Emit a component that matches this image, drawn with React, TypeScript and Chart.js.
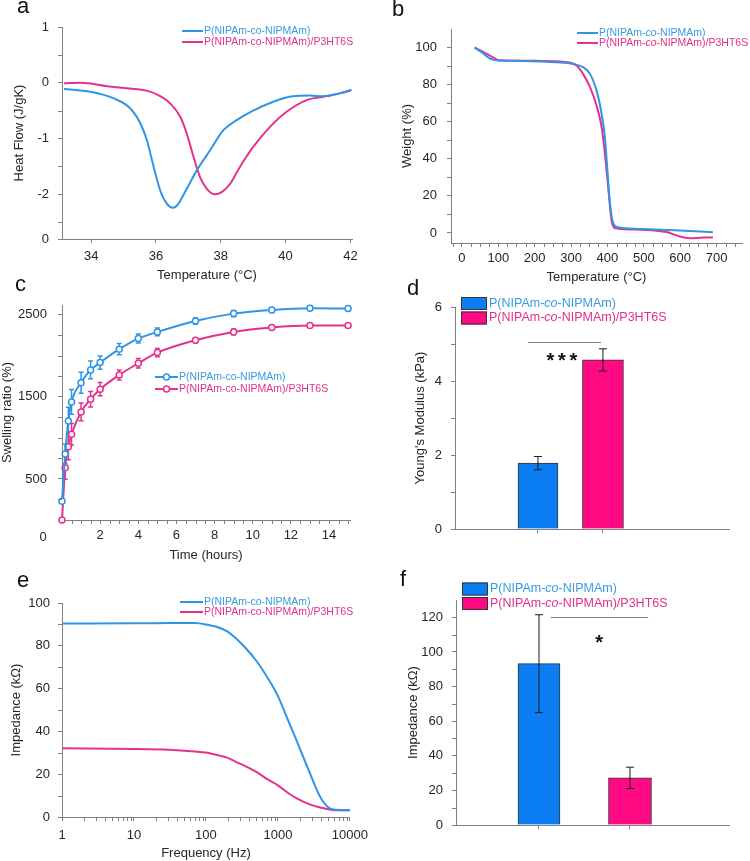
import React, { useEffect, useRef } from 'react';
import { Chart, registerables } from 'chart.js';

Chart.register(...registerables);

// ---------------- data ----------------
const seriesNames = ['P(NIPAm-co-NIPMAm)', 'P(NIPAm-co-NIPMAm)/P3HT6S'];
const panelLetters = ['a', 'b', 'c', 'd', 'e', 'f'];

// (a) DSC heat flow
const dscTempCopolymer = [33.16, 33.98, 34.7, 35.21, 35.52, 35.72, 35.93, 36.13, 36.34, 36.52, 36.65, 36.95, 37.26, 37.67, 38.08, 38.49, 39.0, 39.62, 40.23, 40.75, 41.16, 41.67, 42.03];
const dscHeatCopolymer = [-0.11, -0.16, -0.28, -0.46, -0.73, -1.03, -1.51, -1.93, -2.17, -2.24, -2.2, -1.9, -1.57, -1.21, -0.85, -0.67, -0.5, -0.34, -0.24, -0.23, -0.24, -0.19, -0.13];
const dscTempComposite = [33.16, 33.67, 34.49, 35.1, 35.72, 36.13, 36.44, 36.75, 36.95, 37.16, 37.36, 37.57, 37.82, 38.03, 38.29, 38.59, 39.0, 39.52, 40.03, 40.65, 41.16, 41.67, 42.03];
const dscHeatComposite = [-0.01, 0.0, -0.06, -0.1, -0.14, -0.24, -0.37, -0.61, -0.91, -1.33, -1.69, -1.9, -2.0, -1.96, -1.81, -1.51, -1.15, -0.79, -0.52, -0.31, -0.25, -0.19, -0.13];
const dscXTicks = [34, 36, 38, 40, 42];
const dscXTickLabels = ['34', '36', '38', '40', '42'];
const dscYTicks = [-2.8, -2, -1, 0, 1];
const dscYTickLabels = ['0', '-2', '-1', '0', '1'];
const dscYMinor = [-2.5, -1.5, -0.5, 0.5];

// (b) TGA weight
const tgaTempCopolymer = [35, 54, 77, 100, 168, 260, 306, 333, 352, 370, 384, 393, 400, 407, 416, 429, 489, 562, 626, 690];
const tgaWeightCopolymer = [100, 97.5, 94, 93, 92.8, 92.1, 91.2, 89.4, 85.8, 76.9, 64.3, 51.8, 33.9, 16, 5.2, 3.1, 2.2, 1.6, 1.1, 0.4];
const tgaTempComposite = [35, 54, 92, 100, 215, 288, 315, 333, 352, 370, 384, 393, 402, 411, 420, 489, 562, 599, 626, 663, 690];
const tgaWeightComposite = [100, 98, 94, 93.2, 92.8, 92.1, 90.3, 85.8, 78.7, 68.8, 57.2, 42.9, 25, 7.2, 2.7, 1.8, 0.5, -1.9, -2.8, -2.5, -2.4];
const tgaXTicks = [0, 100, 200, 300, 400, 500, 600, 700];
const tgaXTickLabels = ['0', '100', '200', '300', '400', '500', '600', '700'];
const tgaYTicks = [0, 20, 40, 60, 80, 100];
const tgaYTickLabels = ['0', '20', '40', '60', '80', '100'];
const tgaYMinor = [10, 30, 50, 70, 90];

// (c) swelling ratio
const swellTime = [0, 0.167, 0.333, 0.5, 1, 1.5, 2, 3, 4, 5, 7, 9, 11, 13, 15];
const swellCopolymer = [230, 805, 1207, 1439, 1674, 1829, 1918, 2082, 2211, 2292, 2426, 2515, 2560, 2580, 2578];
const swellCopolymerErr = [0, 120, 167, 150, 128, 108, 81, 69, 55, 47, 40, 37, 30, 27, 27];
const swellComposite = [0, 638, 894, 1045, 1317, 1472, 1594, 1768, 1910, 2040, 2191, 2292, 2345, 2369, 2369];
const swellCompositeErr = [0, 142, 160, 130, 108, 95, 81, 61, 57, 51, 30, 35, 25, 22, 20];
const swellXTicks = [2, 4, 6, 8, 10, 12, 14];
const swellXTickLabels = ['2', '4', '6', '8', '10', '12', '14'];
const swellYTicks = [500, 1500, 2500];
const swellYTickLabels = ['500', '1500', '2500'];
const swellYMinor = [250, 750, 1000, 1250, 1750, 2000, 2250];

// (d) Young's modulus
const youngGroups = [1, 2];
const youngValues = [1.78, 4.57];
const youngErrors = [0.18, 0.3];
const youngYTicks = [0, 2, 4, 6];
const youngYTickLabels = ['0', '2', '4', '6'];
const youngYMinor = [1, 3, 5];

// (e) impedance spectrum
const freqHz = [1, 10, 30, 70, 100, 140, 200, 260, 350, 500, 750, 1000, 1400, 1800, 2700, 4000, 5600, 7500, 10000];
const impSpecCopolymer = [90.4, 90.5, 90.7, 90.6, 90.0, 88.9, 86.6, 83.5, 79.2, 73.0, 64.0, 56.5, 44.8, 36.0, 21.5, 8.5, 3.6, 3.2, 3.1];
const impSpecComposite = [32.1, 31.8, 31.4, 30.6, 30.1, 29.0, 27.6, 25.8, 23.8, 21.1, 17.2, 14.8, 11.1, 8.8, 6.0, 4.3, 3.3, 3.1, 3.1];
const freqXTicks = [1, 10, 100, 1000, 10000];
const freqXTickLabels = ['1', '10', '100', '1000', '10000'];
const impYTicks = [0, 20, 40, 60, 80, 100];
const impYTickLabels = ['0', '20', '40', '60', '80', '100'];
const impYMinor = [10, 30, 50, 70, 90];

// (f) impedance at 1 kHz
const impGroups = [1, 2];
const impValues = [93.2, 27.2];
const impErrors = [28.3, 6.2];
const impBarYTicks = [0, 20, 40, 60, 80, 100, 120];
const impBarYTickLabels = ['0', '20', '40', '60', '80', '100', '120'];
const impBarYMinor = [10, 30, 50, 70, 90, 110];

// ---------------- styles ----------------
const FONT = '"Liberation Sans", Arial, Helvetica, sans-serif';
const BLUE = '#2f95e6';
const MAGENTA = '#e5318c';
const BLUE_TEXT = '#3b9ae0';
const MAGENTA_TEXT = '#e0308a';
const BAR_BLUE = '#0c7ef4';
const BAR_MAGENTA = '#ff0a82';
const AXIS = '#808080';
const TICK_TEXT = '#262626';

// minor tick helper lists (tick positions only)
const tgaXMinor: number[] = [];
for (let v = -25; v <= 750; v += 25) if (v % 100 !== 0) tgaXMinor.push(v);
const swellXMinor: number[] = [];
for (let v = 0.5; v <= 15; v += 0.5) if (v % 2 !== 0) swellXMinor.push(v);
const freqXMinor: number[] = [];
for (let d = 1; d < 10000; d *= 10) for (let m = 2; m <= 9; m++) freqXMinor.push(d * m);

// ---------------- helpers ----------------
function axis(o: any) {
  return {
    type: o.type || 'linear',
    min: o.min,
    max: o.max,
    offset: false,
    border: { display: true, color: AXIS, width: 1 },
    grid: { display: true, drawOnChartArea: false, drawTicks: true, tickLength: 4, tickColor: AXIS, color: AXIS, offset: false },
    ticks: {
      color: TICK_TEXT,
      font: { family: FONT, size: 13 },
      padding: o.pad,
      autoSkip: false,
      maxRotation: 0,
      minRotation: 0,
      callback: (_v: any, i: number) => (o.labels[i] !== undefined ? o.labels[i] : ''),
    },
    afterBuildTicks: (s: any) => {
      s.ticks = o.ticks.map((v: number) => ({ value: v }));
    },
    afterFit: (s: any) => {
      if (o.horizontal) s.height = o.size;
      else s.width = o.size;
    },
    title: o.title
      ? {
          display: true,
          text: o.title,
          color: TICK_TEXT,
          font: { family: FONT, size: 13 },
          padding: o.horizontal ? { top: 0, bottom: o.titlePad || 0 } : { top: o.titlePad || 0, bottom: 0 },
        }
      : { display: false },
  };
}

function baseOptions(padding: any, scales: any) {
  return {
    responsive: false,
    animation: false,
    events: [],
    layout: { padding },
    plugins: { legend: { display: false }, tooltip: { enabled: false } },
    scales,
  };
}

function lineDataset(label: string, xs: number[], ys: number[], color: string, extra: any = {}) {
  return {
    label,
    data: xs.map((x, i) => ({ x, y: ys[i] })),
    borderColor: color,
    backgroundColor: color,
    borderWidth: 2,
    pointRadius: 0,
    cubicInterpolationMode: 'monotone',
    fill: false,
    ...extra,
  };
}

function splitCo(text: string): [string, boolean][] {
  const i = text.indexOf('-co-');
  if (i < 0) return [[text, false]];
  return [
    [text.slice(0, i + 1), false],
    ['co', true],
    [text.slice(i + 3), false],
  ];
}

function drawRich(ctx: CanvasRenderingContext2D, text: string, x: number, y: number, size: number, color: string, italicCo: boolean) {
  ctx.textBaseline = 'middle';
  ctx.textAlign = 'left';
  ctx.fillStyle = color;
  const parts: [string, boolean][] = italicCo ? splitCo(text) : [[text, false]];
  let cx = x;
  for (const [t, it] of parts) {
    ctx.font = `${it ? 'italic ' : ''}${size}px ${FONT}`;
    ctx.fillText(t, cx, y);
    cx += ctx.measureText(t).width;
  }
}

function drawErrors(chart: any, isBar: boolean) {
  const ctx = chart.ctx;
  const ys = chart.scales.y;
  chart.data.datasets.forEach((ds: any, di: number) => {
    const errs = ds.errors;
    if (!errs) return;
    const meta = chart.getDatasetMeta(di);
    ctx.save();
    ctx.strokeStyle = isBar ? '#1a1a1a' : ds.borderColor;
    ctx.lineWidth = isBar ? 1 : 1.5;
    const cap = isBar ? 4 : 2.5;
    meta.data.forEach((el: any, i: number) => {
      const e = errs[i];
      if (!e) return;
      const raw = ds.data[i];
      const v = typeof raw === 'number' ? raw : raw.y;
      const x = el.x;
      const y1 = ys.getPixelForValue(v + e);
      const y2 = ys.getPixelForValue(v - e);
      ctx.beginPath();
      ctx.moveTo(x, y1);
      ctx.lineTo(x, y2);
      ctx.moveTo(x - cap, y1);
      ctx.lineTo(x + cap, y1);
      ctx.moveTo(x - cap, y2);
      ctx.lineTo(x + cap, y2);
      ctx.stroke();
    });
    ctx.restore();
  });
}

function drawMinor(chart: any, id: string, values: number[], len: number) {
  const s = chart.scales[id];
  const ctx = chart.ctx;
  const ca = chart.chartArea;
  ctx.save();
  ctx.strokeStyle = AXIS;
  ctx.lineWidth = 1;
  ctx.beginPath();
  for (const v of values) {
    if (v < s.min || v > s.max) continue;
    if (s.isHorizontal()) {
      const x = Math.round(s.getPixelForValue(v)) + 0.5;
      ctx.moveTo(x, ca.bottom);
      ctx.lineTo(x, ca.bottom + len);
    } else {
      const y = Math.round(s.getPixelForValue(v)) + 0.5;
      ctx.moveTo(ca.left, y);
      ctx.lineTo(ca.left - len, y);
    }
  }
  ctx.stroke();
  ctx.restore();
}

function makeExtras(ex: any) {
  return {
    id: 'extras',
    beforeDatasetsDraw(chart: any) {
      if (ex.errorStyle === 'line') drawErrors(chart, false);
    },
    afterDatasetsDraw(chart: any) {
      if (ex.errorStyle === 'bar') drawErrors(chart, true);
    },
    afterDraw(chart: any) {
      const ctx = chart.ctx;
      if (ex.minorX) drawMinor(chart, 'x', ex.minorX, 4);
      if (ex.minorY) drawMinor(chart, 'y', ex.minorY, 4);
      if (ex.sig) {
        const sg = ex.sig;
        const xs = chart.scales.x;
        const ys = chart.scales.y;
        ctx.save();
        ctx.strokeStyle = '#7a7a7a';
        ctx.lineWidth = 1;
        const y = Math.round(ys.getPixelForValue(sg.y)) + 0.5;
        ctx.beginPath();
        ctx.moveTo(xs.getPixelForValue(sg.x1), y);
        ctx.lineTo(xs.getPixelForValue(sg.x2), y);
        ctx.stroke();
        ctx.fillStyle = '#111';
        ctx.font = `bold ${sg.size}px ${FONT}`;
        ctx.textAlign = 'center';
        ctx.textBaseline = 'alphabetic';
        const chars = sg.text.split('');
        const cx = xs.getPixelForValue(sg.tx);
        const ty = ys.getPixelForValue(sg.ty);
        chars.forEach((c: string, i: number) => {
          ctx.fillText(c, cx + (i - (chars.length - 1) / 2) * sg.spacing, ty);
        });
        ctx.restore();
      }
      if (ex.texts) {
        ex.texts.forEach((t: any) => {
          ctx.save();
          ctx.font = `${t.size}px ${FONT}`;
          ctx.fillStyle = TICK_TEXT;
          ctx.textAlign = 'center';
          ctx.textBaseline = 'middle';
          ctx.fillText(t.text, t.x, t.y);
          ctx.restore();
        });
      }
      if (ex.legend) {
        const lg = ex.legend;
        lg.items.forEach((it: any, i: number) => {
          const y = lg.ys[i];
          ctx.save();
          if (lg.kind === 'box') {
            ctx.fillStyle = it.color;
            ctx.fillRect(lg.x1, y - lg.boxH / 2, lg.x2 - lg.x1, lg.boxH);
            ctx.strokeStyle = '#333';
            ctx.lineWidth = 1;
            ctx.strokeRect(lg.x1 + 0.5, y - lg.boxH / 2 + 0.5, lg.x2 - lg.x1 - 1, lg.boxH - 1);
          } else {
            ctx.strokeStyle = it.color;
            ctx.lineWidth = 2;
            ctx.beginPath();
            ctx.moveTo(lg.x1, y);
            ctx.lineTo(lg.x2, y);
            ctx.stroke();
            if (lg.kind === 'marker') {
              ctx.beginPath();
              ctx.arc((lg.x1 + lg.x2) / 2, y, 3, 0, Math.PI * 2);
              ctx.fillStyle = '#fff';
              ctx.fill();
              ctx.lineWidth = 1.5;
              ctx.stroke();
            }
          }
          drawRich(ctx, it.text, lg.textX, y, lg.size, it.textColor, !!lg.italicCo);
          ctx.restore();
        });
      }
    },
  };
}

const legendItems = [
  { text: seriesNames[0], color: BLUE, textColor: BLUE_TEXT },
  { text: seriesNames[1], color: MAGENTA, textColor: MAGENTA_TEXT },
];
const legendBoxItems = [
  { text: seriesNames[0], color: BAR_BLUE, textColor: BLUE_TEXT },
  { text: seriesNames[1], color: BAR_MAGENTA, textColor: MAGENTA_TEXT },
];

// ---------------- chart configs ----------------
const cfgA = () => ({
  type: 'line',
  data: {
    datasets: [
      lineDataset(seriesNames[0], dscTempCopolymer, dscHeatCopolymer, BLUE),
      lineDataset(seriesNames[1], dscTempComposite, dscHeatComposite, MAGENTA),
    ],
  },
  options: baseOptions({ left: 0, top: 27, right: 23, bottom: 0 }, {
    x: axis({ min: 33.1, max: 42.05, ticks: dscXTicks, labels: dscXTickLabels, size: 51, horizontal: true, pad: 6, title: 'Temperature (°C)', titlePad: 7 }),
    y: axis({ min: -2.8, max: 1, ticks: dscYTicks, labels: dscYTickLabels, size: 62, horizontal: false, pad: 9, title: 'Heat Flow (J/gK)', titlePad: 12 }),
  }),
  plugins: [makeExtras({ minorY: dscYMinor, legend: { kind: 'line', x1: 182, x2: 203, ys: [31, 42], textX: 204, size: 10.5, items: legendItems } })],
});

const cfgB = () => ({
  type: 'line',
  data: {
    datasets: [
      lineDataset(seriesNames[0], tgaTempCopolymer, tgaWeightCopolymer, BLUE),
      lineDataset(seriesNames[1], tgaTempComposite, tgaWeightComposite, MAGENTA),
    ],
  },
  options: baseOptions({ left: 0, top: 29, right: 8, bottom: 0 }, {
    x: axis({ min: -30, max: 770, ticks: tgaXTicks, labels: tgaXTickLabels, size: 47, horizontal: true, pad: 4, title: 'Temperature (°C)', titlePad: 5 }),
    y: axis({ min: -5.4, max: 110, ticks: tgaYTicks, labels: tgaYTickLabels, size: 76, horizontal: false, pad: 10, title: 'Weight (%)', titlePad: 25 }),
  }),
  plugins: [makeExtras({ minorX: tgaXMinor, minorY: tgaYMinor, legend: { kind: 'line', x1: 202, x2: 223, ys: [33, 43], textX: 224, size: 10.5, italicCo: true, items: legendItems } })],
});

const swellPoint = (color: string) => ({
  pointRadius: 3,
  pointBackgroundColor: '#ffffff',
  pointBorderColor: color,
  pointBorderWidth: 1.5,
  clip: false,
});

const cfgC = () => ({
  type: 'line',
  data: {
    datasets: [
      { ...lineDataset(seriesNames[0], swellTime, swellCopolymer, BLUE, swellPoint(BLUE)), errors: swellCopolymerErr },
      { ...lineDataset(seriesNames[1], swellTime, swellComposite, MAGENTA, swellPoint(MAGENTA)), errors: swellCompositeErr },
    ],
  },
  options: baseOptions({ left: 0, top: 20, right: 25, bottom: 0 }, {
    x: axis({ min: 0, max: 15.1, ticks: swellXTicks, labels: swellXTickLabels, size: 50, horizontal: true, pad: 4, title: 'Time (hours)', titlePad: 7 }),
    y: axis({ min: 0, max: 2620, ticks: swellYTicks, labels: swellYTickLabels, size: 62, horizontal: false, pad: 11, title: 'Swelling ratio (%)', titlePad: 0 }),
  }),
  plugins: [
    makeExtras({
      errorStyle: 'line',
      minorX: swellXMinor,
      minorY: swellYMinor,
      texts: [{ text: '0', x: 43, y: 252, size: 13 }],
      legend: { kind: 'marker', x1: 155, x2: 178, ys: [92, 104], textX: 179, size: 10.5, items: legendItems },
    }),
  ],
});

const cfgD = () => ({
  type: 'bar',
  data: {
    datasets: [
      { label: seriesNames[0], data: [{ x: youngGroups[0], y: youngValues[0] }], errors: [youngErrors[0]], backgroundColor: BAR_BLUE, borderColor: '#333', borderWidth: 1, barThickness: 40, grouped: false },
      { label: seriesNames[1], data: [{ x: youngGroups[1], y: youngValues[1] }], errors: [youngErrors[1]], backgroundColor: BAR_MAGENTA, borderColor: '#333', borderWidth: 1, barThickness: 41, grouped: false },
    ],
  },
  options: baseOptions({ left: 0, top: 22, right: 21, bottom: 0 }, {
    x: axis({ min: -0.277, max: 3.94, ticks: youngGroups, labels: ['', ''], size: 41, horizontal: true, pad: 4 }),
    y: axis({ min: 0, max: 6, ticks: youngYTicks, labels: youngYTickLabels, size: 80, horizontal: false, pad: 9, title: "Young's Modulus (kPa)", titlePad: 38 }),
  }),
  plugins: [
    makeExtras({
      errorStyle: 'bar',
      minorY: youngYMinor,
      sig: { x1: 0.85, x2: 1.97, y: 5.05, text: '***', tx: 1.37, ty: 4.39, size: 20, spacing: 11.5 },
      legend: { kind: 'box', x1: 86, x2: 112, boxH: 13, ys: [18.5, 33], textX: 114, size: 12.5, italicCo: true, items: legendBoxItems },
    }),
  ],
});

const cfgE = () => ({
  type: 'line',
  data: {
    datasets: [
      lineDataset(seriesNames[0], freqHz, impSpecCopolymer, BLUE),
      lineDataset(seriesNames[1], freqHz, impSpecComposite, MAGENTA),
    ],
  },
  options: baseOptions({ left: 0, top: 38, right: 23, bottom: 0 }, {
    x: axis({ type: 'logarithmic', min: 1, max: 10000, ticks: freqXTicks, labels: freqXTickLabels, size: 44, horizontal: true, pad: 7, title: 'Frequency (Hz)', titlePad: 0 }),
    y: axis({ min: 0, max: 100, ticks: impYTicks, labels: impYTickLabels, size: 62, horizontal: false, pad: 8, title: 'Impedance (kΩ)', titlePad: 9 }),
  }),
  plugins: [makeExtras({ minorX: freqXMinor, minorY: impYMinor, legend: { kind: 'line', x1: 180, x2: 203, ys: [37, 47], textX: 204, size: 10.5, items: legendItems } })],
});

const cfgF = () => ({
  type: 'bar',
  data: {
    datasets: [
      { label: seriesNames[0], data: [{ x: impGroups[0], y: impValues[0] }], errors: [impErrors[0]], backgroundColor: BAR_BLUE, borderColor: '#333', borderWidth: 1, barThickness: 42, grouped: false },
      { label: seriesNames[1], data: [{ x: impGroups[1], y: impValues[1] }], errors: [impErrors[1]], backgroundColor: BAR_MAGENTA, borderColor: '#333', borderWidth: 1, barThickness: 43, grouped: false },
    ],
  },
  options: baseOptions({ left: 0, top: 35, right: 21, bottom: 0 }, {
    x: axis({ min: 0.088, max: 3.088, ticks: impGroups, labels: ['', ''], size: 36, horizontal: true, pad: 4 }),
    y: axis({ min: 0, max: 130, ticks: impBarYTicks, labels: impBarYTickLabels, size: 81, horizontal: false, pad: 9, title: 'Impedance (kΩ)', titlePad: 31 }),
  }),
  plugins: [
    makeExtras({
      errorStyle: 'bar',
      minorY: impBarYMinor,
      sig: { x1: 1.13, x2: 2.2, y: 120, text: '*', tx: 1.66, ty: 101.8, size: 20, spacing: 0 },
      legend: { kind: 'box', x1: 87, x2: 113, boxH: 13, ys: [24, 38.5], textX: 115, size: 12.5, italicCo: true, items: legendBoxItems },
    }),
  ],
});

// ---------------- layout ----------------
const panels = [
  { key: 'a', left: 0, top: 0, width: 375, height: 290, cfg: cfgA },
  { key: 'b', left: 375, top: 0, width: 375, height: 290, cfg: cfgB },
  { key: 'c', left: 0, top: 285, width: 375, height: 285, cfg: cfgC },
  { key: 'd', left: 375, top: 285, width: 375, height: 285, cfg: cfgD },
  { key: 'e', left: 0, top: 565, width: 375, height: 296, cfg: cfgE },
  { key: 'f', left: 375, top: 565, width: 375, height: 296, cfg: cfgF },
];
const letterPos = [
  { x: 17, baseline: 14 },
  { x: 392, baseline: 17 },
  { x: 15, baseline: 292 },
  { x: 407, baseline: 296 },
  { x: 17, baseline: 588 },
  { x: 400, baseline: 587 },
];

function ChartCanvas(props: any) {
  const ref = useRef<HTMLCanvasElement>(null);
  useEffect(() => {
    const chart = new Chart(ref.current as HTMLCanvasElement, props.cfg() as any);
    return () => chart.destroy();
  }, []);
  return (
    <canvas
      ref={ref}
      width={props.width}
      height={props.height}
      style={{ position: 'absolute', left: props.left, top: props.top, width: props.width, height: props.height }}
    />
  );
}

export default function App() {
  Chart.defaults.font.family = FONT;
  return (
    <div style={{ position: 'absolute', left: 0, top: 0, width: 750, height: 861, background: '#ffffff', overflow: 'hidden' }}>
      {panels.map((p) => (
        <ChartCanvas key={p.key} {...p} />
      ))}
      {panelLetters.map((l, i) => (
        <div
          key={l}
          style={{
            position: 'absolute',
            left: letterPos[i].x,
            top: letterPos[i].baseline - 18.6,
            fontFamily: FONT,
            fontSize: 22,
            lineHeight: '22px',
            color: '#111',
          }}
        >
          {l}
        </div>
      ))}
    </div>
  );
}
